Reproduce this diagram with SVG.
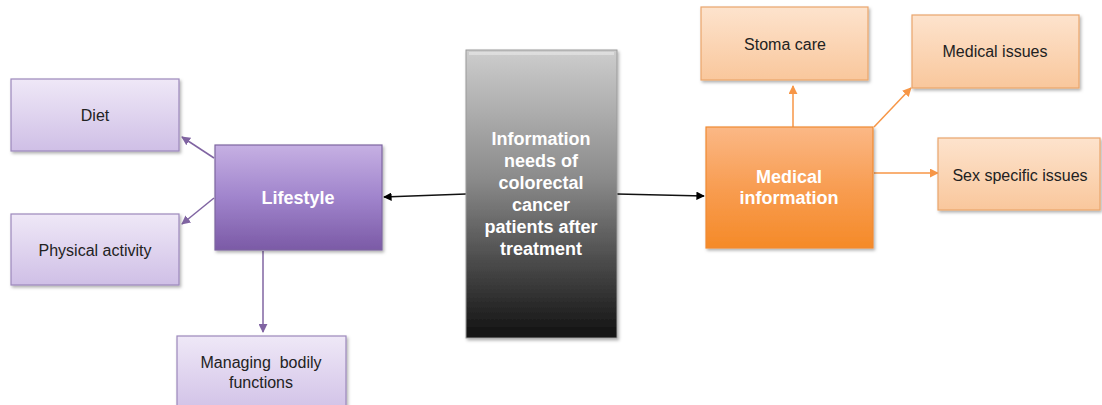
<svg xmlns="http://www.w3.org/2000/svg" width="1102" height="405" viewBox="0 0 1102 405">
  <defs>
    <linearGradient id="gPurpleLight" x1="0" y1="0" x2="0" y2="1">
      <stop offset="0" stop-color="#efe8f7"/>
      <stop offset="1" stop-color="#cfbfe6"/>
    </linearGradient>
    <linearGradient id="gPurpleDark" x1="0" y1="0" x2="0" y2="1">
      <stop offset="0" stop-color="#c6b0e3"/>
      <stop offset="0.5" stop-color="#a084cc"/>
      <stop offset="1" stop-color="#7b5aa6"/>
    </linearGradient>
    <linearGradient id="gOrangeLight" x1="0" y1="0" x2="0" y2="1">
      <stop offset="0" stop-color="#fde3cd"/>
      <stop offset="1" stop-color="#f9c79c"/>
    </linearGradient>
    <linearGradient id="gOrangeDark" x1="0" y1="0" x2="0" y2="1">
      <stop offset="0" stop-color="#fbb886"/>
      <stop offset="0.5" stop-color="#f89d52"/>
      <stop offset="1" stop-color="#f58a28"/>
    </linearGradient>
    <linearGradient id="gGray" x1="0" y1="0" x2="0" y2="1">
      <stop offset="0" stop-color="#cdcdcd"/>
      <stop offset="0.45" stop-color="#8a8a8a"/>
      <stop offset="1" stop-color="#111111"/>
    </linearGradient>
    <filter id="shadow" x="-10%" y="-10%" width="125%" height="130%">
      <feDropShadow dx="1.5" dy="2" stdDeviation="1.5" flood-color="#000" flood-opacity="0.3"/>
    </filter>
    <marker id="arrowPurple" viewBox="0 0 10 10" refX="9" refY="5" markerWidth="6" markerHeight="6" orient="auto" markerUnits="strokeWidth">
      <path d="M0,0 L10,5 L0,10 Z" fill="#8064a2"/>
    </marker>
    <marker id="arrowOrange" viewBox="0 0 10 10" refX="9" refY="5" markerWidth="6" markerHeight="6" orient="auto" markerUnits="strokeWidth">
      <path d="M0,0 L10,5 L0,10 Z" fill="#f79646"/>
    </marker>
    <marker id="arrowBlack" viewBox="0 0 10 10" refX="9" refY="5" markerWidth="6.5" markerHeight="6.5" orient="auto" markerUnits="strokeWidth">
      <path d="M0,0 L10,5 L0,10 Z" fill="#000"/>
    </marker>
  </defs>
  <style>
    .lbl { font-family: "Liberation Sans", Arial, sans-serif; font-size: 16px; fill: #222222; text-anchor: middle; white-space: pre; }
    .hd { font-family: "Liberation Sans", Arial, sans-serif; font-size: 18px; font-weight: bold; fill: #ffffff; text-anchor: middle; }
    .pl { fill: url(#gPurpleLight); stroke: #9c88bb; stroke-width: 1.2; filter: url(#shadow); }
    .pd { fill: url(#gPurpleDark); stroke: #7d66a0; stroke-width: 1.2; filter: url(#shadow); }
    .ol { fill: url(#gOrangeLight); stroke: #eaa56c; stroke-width: 1.2; filter: url(#shadow); }
    .od { fill: url(#gOrangeDark); stroke: #f08a32; stroke-width: 1.2; filter: url(#shadow); }
    .cp { stroke: #8064a2; stroke-width: 1.5; fill: none; marker-end: url(#arrowPurple); }
    .co { stroke: #f79646; stroke-width: 1.5; fill: none; marker-end: url(#arrowOrange); }
    .cb { stroke: #111; stroke-width: 1.3; fill: none; marker-end: url(#arrowBlack); }
  </style>

  <!-- connectors -->
  <g id="connectors">
    <line class="cb" x1="466" y1="194" x2="384" y2="197"/>
    <line class="cb" x1="617" y1="194" x2="704" y2="196"/>
    <line class="cp" x1="214" y1="158" x2="182" y2="137"/>
    <line class="cp" x1="214" y1="198" x2="182" y2="224"/>
    <line class="cp" x1="263" y1="251" x2="263" y2="332"/>
    <line class="co" x1="793" y1="127" x2="793" y2="86"/>
    <line class="co" x1="874" y1="127" x2="911" y2="88"/>
    <line class="co" x1="874" y1="173" x2="938" y2="173"/>
  </g>

  <!-- central topic -->
  <g id="center">
    <rect x="466" y="50" width="151" height="288" fill="url(#gGray)" stroke="#9a9a9a" stroke-width="1" filter="url(#shadow)"/>
    <rect x="469" y="52" width="145" height="3" fill="#ffffff" opacity="0.35"/>
    <text class="hd" x="541" y="145">Information</text>
    <text class="hd" x="541" y="167">needs of</text>
    <text class="hd" x="541" y="189">colorectal</text>
    <text class="hd" x="541" y="211">cancer</text>
    <text class="hd" x="541" y="233">patients after</text>
    <text class="hd" x="541" y="255">treatment</text>
  </g>

  <!-- lifestyle branch -->
  <g id="lifestyle">
    <rect class="pd" x="215" y="145" width="167" height="105"/>
    <text class="hd" x="298" y="204">Lifestyle</text>
  </g>
  <g id="diet">
    <rect class="pl" x="11" y="79" width="168" height="72"/>
    <text class="lbl" x="95" y="121">Diet</text>
  </g>
  <g id="physical-activity">
    <rect class="pl" x="11" y="214" width="168" height="71"/>
    <text class="lbl" x="95" y="256">Physical activity</text>
  </g>
  <g id="bodily-functions">
    <rect class="pl" x="177" y="336" width="169" height="80"/>
    <text class="lbl" x="261" y="368">Managing  bodily</text>
    <text class="lbl" x="261" y="388">functions</text>
  </g>

  <!-- medical branch -->
  <g id="medical-information">
    <rect class="od" x="706" y="127" width="167" height="121"/>
    <text class="hd" x="789" y="183">Medical</text>
    <text class="hd" x="789" y="204">information</text>
  </g>
  <g id="stoma-care">
    <rect class="ol" x="701" y="7" width="167" height="73"/>
    <text class="lbl" x="785" y="50">Stoma care</text>
  </g>
  <g id="medical-issues">
    <rect class="ol" x="912" y="15" width="167" height="73"/>
    <text class="lbl" x="995" y="57">Medical issues</text>
  </g>
  <g id="sex-specific-issues">
    <rect class="ol" x="938" y="138" width="162" height="72"/>
    <text class="lbl" x="1020" y="181">Sex specific issues</text>
  </g>
</svg>
